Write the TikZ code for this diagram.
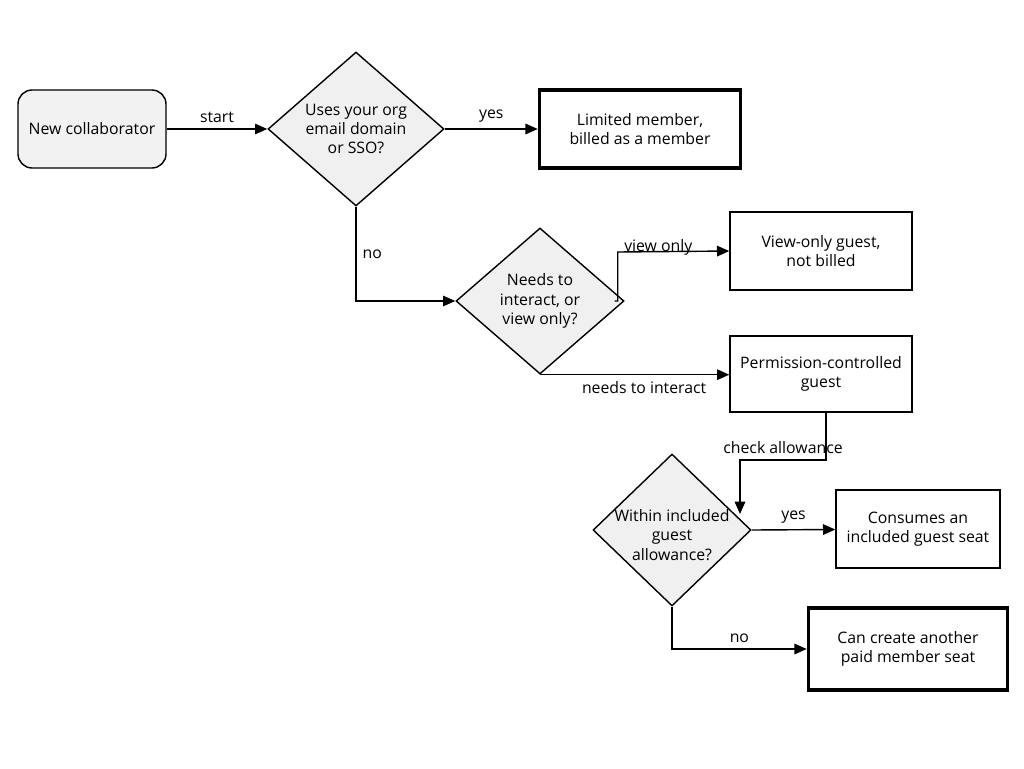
\documentclass[tikz,border=0pt]{standalone}
\usepackage{fontspec}
\setmainfont{Open Sans}
\usetikzlibrary{shapes.geometric,arrows.meta}
\tikzset{
  box/.style={draw, line width=0.8pt, align=center, font=\fontsize{9}{11}\selectfont},
  start/.style={box, rounded corners=8pt, fill=gray!10},
  final/.style={box, line width=2pt},
  dia/.style={draw, diamond, fill=gray!12, line width=0.8pt, inner sep=0pt},
  dtext/.style={align=center, font=\fontsize{9}{11}\selectfont},
  lbl/.style={font=\fontsize{9}{11}\selectfont},
  flow/.style={-{Triangle[length=7pt,width=6pt]}, line width=0.8pt},
}
\begin{document}
\begin{tikzpicture}[x=0.02cm,y=-0.02cm]
    \useasboundingbox (0,0) rectangle (1024,768);

    % start and first question
    \node[start, minimum width=148*0.02cm, minimum height=78*0.02cm] (new) at (92,129) {New collaborator};
    \node[dia, minimum width=176*0.02cm, minimum height=154*0.02cm] (d1) at (356,129) {};
    \node[dtext] (t1) at (356,129) {Uses your org\\email domain\\or SSO?};
    \node[final, minimum width=201*0.02cm, minimum height=78*0.02cm] (member) at (640,129) {Limited member,\\billed as a member};

    % guest branch
    \node[dia, minimum width=168*0.02cm, minimum height=146*0.02cm] (d2) at (540,301) {};
    \node[dtext] (t2) at (540,301) {Needs to\\interact, or\\view only?};
    \node[box, minimum width=182*0.02cm, minimum height=78*0.02cm] (view) at (821,251) {View-only guest,\\not billed};
    \node[box, minimum width=182*0.02cm, minimum height=76*0.02cm] (perm) at (821,374) {Permission-controlled\\guest};

    % allowance check
    \node[dia, minimum width=158*0.02cm, minimum height=152*0.02cm] (d3) at (672,530) {};
    \node[dtext] (t3) at (672,535) {Within included\\guest\\allowance?};
    \node[box, minimum width=164*0.02cm, minimum height=78*0.02cm] (seat) at (918,529) {Consumes an\\included guest seat};
    \node[final, minimum width=199*0.02cm, minimum height=82*0.02cm] (paid) at (908,649) {Can create another\\paid member seat};

    % connectors
    \draw[flow] (new) -- node[lbl, above] {start} (d1.west);
    \draw[flow] (d1.east) -- node[lbl, above] {yes} (member);
    \draw[flow] (d1.south) -- node[lbl, right, pos=0.5] {no} (d1.south |- d2.west) -- (d2.west);
    \draw[flow] ([xshift=-10*0.02cm]d2.east) -| ++(3,-49) node[lbl, above right, pos=0.9] {view only} -- (view.west);
    \draw[flow] (d2.south) -- node[lbl, below, pos=0.55] {needs to interact} (perm.west |- d2.south);
    \coordinate (bend) at (740,460);
    \draw[flow] ([xshift=5*0.02cm]perm.south) |- node[lbl, above, pos=0.75] {check allowance} (bend) -- (740,514);
    \draw[flow] (d3.east) -- node[lbl, above] {yes} (seat);
    \draw[flow] (d3.south) |- node[lbl, above, pos=0.75] {no} (paid.west);
\end{tikzpicture}
\end{document}
